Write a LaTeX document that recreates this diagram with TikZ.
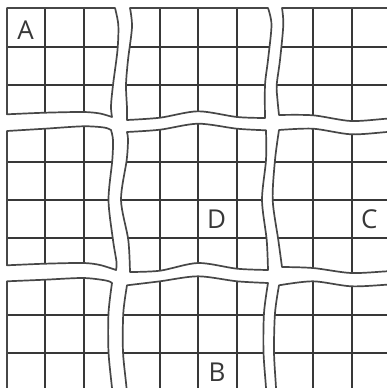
\documentclass[tikz,border=0pt]{standalone}
\usepackage{fontspec}
\setmainfont{Open Sans}
\newcommand\allgridlines{%
  \draw[gridline]
    (7,-5)--(7,405) (45,-5)--(45,405) (84,-5)--(84,405)
    (160,-5)--(160,405) (198,-5)--(198,405) (237,-5)--(237,405)
    (313,-5)--(313,405) (352,-5)--(352,405)
    (-5,8)--(405,8) (-5,47)--(405,47) (-5,85)--(405,85)
    (-5,162)--(405,162) (-5,200)--(405,200) (-5,238)--(405,238)
    (-5,315)--(405,315) (-5,353)--(405,353);}
\newcommand\gridpiece[1]{%
  \begin{scope}
    \clip #1;
    \allgridlines
  \end{scope}
  \draw[pieceedge] #1;}
\tikzset{
  gridline/.style={draw=black!78, line width=1.6pt},
  pieceedge/.style={draw=black!72, line width=1.7pt, line join=round},
  lbl/.style={inner sep=0pt, text=black!78, font=\fontsize{26}{26}\selectfont}
}
\begin{document}
\begin{tikzpicture}[x=1pt,y=-1pt]
\clip (0,0) rectangle (387,388);
\fill[white] (0,0) rectangle (387,388);
% row 0
\gridpiece{(7,114.3) -- (7,8) -- (115,8) -- plot[smooth] coordinates {(115,8) (118.3,25) (117.5,50) (113,85) (111,106) (112,117)} -- plot[smooth] coordinates {(112,117) (100,113.5) (83,112) (45,112.7) (7,114.3)} -- cycle}
\gridpiece{(130,8) -- (268,8) -- plot[smooth] coordinates {(268,8) (271.5,25) (268,60) (265,85) (265,118)} -- plot[smooth] coordinates {(265,118) (237,117) (198,111.3) (160,117.7) (127,120)} -- plot[smooth] coordinates {(127,120) (127,108) (126,85) (128,60) (132,27) (130,8)} -- cycle}
\gridpiece{(282,8) -- (400,8) -- (400,119) -- plot[smooth] coordinates {(400,119) (387,118.7) (351,121) (313,115.3) (279,115)} -- plot[smooth] coordinates {(279,115) (277.5,100) (276.7,85) (280,60) (283.3,25) (282,8)} -- cycle}
% row 1
\gridpiece{(7,265.3) -- (7,131) -- plot[smooth] coordinates {(7,131) (45,128.7) (83,126.3) (104,127.5) (111,130)} -- plot[smooth] coordinates {(111,130) (113,140) (112.3,160) (108.5,200) (113,240) (116.5,262) (116,270)} -- plot[smooth] coordinates {(116,270) (100,265) (83,263) (45,263.7) (7,265.3)} -- cycle}
\gridpiece{(127,132) -- plot[smooth] coordinates {(127,132) (160,129.7) (198,123.7) (237,128.7) (266,130.3)} -- plot[smooth] coordinates {(266,130.3) (266,160) (262,200) (266.7,240) (268,270)} -- plot[smooth] coordinates {(268,270) (237,268.7) (198,263) (160,270.7) (130,272)} -- plot[smooth] coordinates {(130,272) (128.3,240) (121,200) (126.7,160) (128,140) (127,132)} -- cycle}
\gridpiece{(279,130) -- plot[smooth] coordinates {(279,130) (313,128.7) (351,134.3) (387,132) (400,131)} -- (400,271) -- plot[smooth] coordinates {(400,271) (387,271.3) (351,273) (313,268) (282,267)} -- plot[smooth] coordinates {(282,267) (278.3,240) (272.7,200) (275,160) (279,130)} -- cycle}
% row 2
\gridpiece{(7,400) -- (7,281.3) -- plot[smooth] coordinates {(7,281.3) (45,279.7) (83,278) (106,280.5) (112,283)} -- plot[smooth] coordinates {(112,283) (108.5,313) (108.5,352) (112,388) (113,400)} -- cycle}
\gridpiece{(127,285.3) -- plot[smooth] coordinates {(127,285.3) (160,281.3) (198,276.3) (237,281.3) (268,283)} -- plot[smooth] coordinates {(268,283) (264,313) (263.5,352) (266,388) (266,400)} -- (126,400) -- plot[smooth] coordinates {(126,400) (126.5,388) (123,352) (123.3,313) (127,285.3)} -- cycle}
\gridpiece{(279,285.3) -- plot[smooth] coordinates {(279,285.3) (313,281.3) (351,286.3) (387,284.7) (400,284)} -- (400,400) -- (276,400) -- plot[smooth] coordinates {(276,400) (276,388) (274,352) (275,313) (279,285.3)} -- cycle}
% labels
\node[lbl] (la) at (25.5,29.7) {A};
\node[lbl] (ld) at (216.5,219.7) {D};
\node[lbl] (lc) at (369.3,219.7) {C};
\node[lbl] (lb) at (217,371.8) {B};
\end{tikzpicture}
\end{document}
